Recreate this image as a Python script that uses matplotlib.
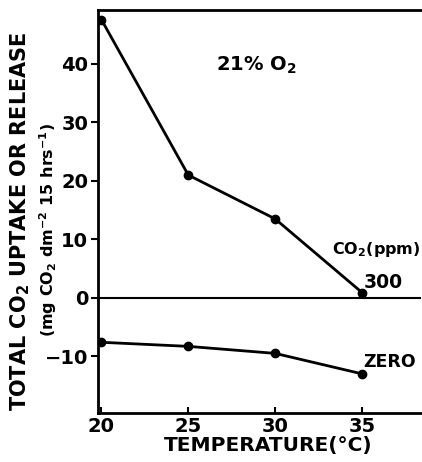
import matplotlib.pyplot as plt

temps = [20, 25, 30, 35]
co2_300 = [47.6, 21.0, 13.5, 0.9]
co2_zero = [-7.6, -8.3, -9.5, -13.0]
xticks = [20, 25, 30, 35]
yticks = [-10, 0, 10, 20, 30, 40]

plt.rcParams['font.family'] = 'DejaVu Sans'
plt.rcParams['font.weight'] = 'bold'
plt.rcParams['mathtext.default'] = 'bf'

fig = plt.figure(figsize=(4.22, 4.62), dpi=100)
ax = fig.add_axes([0.232, 0.106, 0.766, 0.872])

ax.plot(temps, co2_300, color='black', lw=2, marker='o', ms=6)
ax.plot(temps, co2_zero, color='black', lw=2, marker='o', ms=6)
ax.axhline(0, color='black', lw=1.5)

ax.set_xlim(19.8, 38.4)
ax.set_ylim(-19.7, 49.2)
ax.set_xticks(xticks)
ax.set_yticks(yticks)
ax.tick_params(axis='x', labelsize=14, width=1.5, length=4, direction='in', pad=3)
ax.tick_params(axis='y', labelsize=14, width=1.5, length=5, direction='out', pad=2)
for lab in ax.get_xticklabels() + ax.get_yticklabels():
    lab.set_fontweight('bold')

for side in ['left', 'bottom', 'top']:
    ax.spines[side].set_linewidth(2)
ax.spines['right'].set_visible(False)

# x label placed in figure coordinates, under the tick labels
fig.text(0.635, 0.035, 'TEMPERATURE(°C)', fontsize=14.5, fontweight='bold',
         ha='center', va='center')

# y label drawn as two separate lines
fig.text(0.047, 0.52, 'TOTAL CO$_2$ UPTAKE OR RELEASE', rotation=90,
         fontsize=15, fontweight='bold', ha='center', va='center')
fig.text(0.114, 0.502, '(mg CO$_2$ dm$^{-2}$ 15 hrs$^{-1}$)', rotation=90,
         fontsize=11.5, fontweight='bold', ha='center', va='center')

ax.text(28.9, 39.8, '21% O$_2$', fontsize=14, fontweight='bold', ha='center', va='center')
ax.text(35.8, 8.2, 'CO$_2$(ppm)', fontsize=11.5, fontweight='bold', ha='center', va='center')
ax.text(36.2, 2.7, '300', fontsize=13.5, fontweight='bold', ha='center', va='center')
ax.text(36.6, -11, 'ZERO', fontsize=12.5, fontweight='bold', ha='center', va='center')

fig.savefig('out.png', dpi=100)
